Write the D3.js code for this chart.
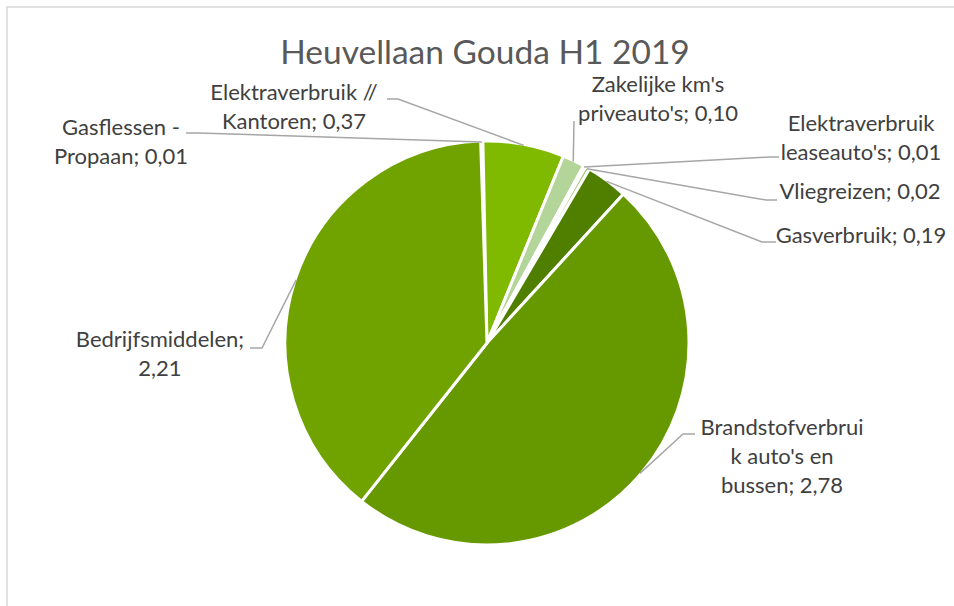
<!DOCTYPE html>
<html lang="nl">
<head>
  <meta charset="UTF-8" />
  <title>Heuvellaan Gouda H1 2019</title>
  <script src="https://d3js.org/d3.v7.min.js"></script>
  <style>
    body { margin: 0; background: #fff; }
    svg { display: block; font-family: Lato, "Open Sans", sans-serif; }
  </style>
</head>
<body>
  <svg id="chart" width="954" height="606"></svg>

  <script>
    // data, in the order Excel draws the slices (clockwise from the top)
    const categories = [
      "Gasflessen - Propaan",
      "Elektraverbruik // Kantoren",
      "Zakelijke km's priveauto's",
      "Elektraverbruik leaseauto's",
      "Vliegreizen",
      "Gasverbruik",
      "Brandstofverbruik auto's en bussen",
      "Bedrijfsmiddelen"
    ];
    const values = [0.01, 0.37, 0.10, 0.01, 0.02, 0.19, 2.78, 2.21];
    // wrapped label text as it appears on the chart
    const labelLines = [
      ["Gasflessen -", "Propaan; 0,01"],
      ["Elektraverbruik //", "Kantoren; 0,37"],
      ["Zakelijke km's", "priveauto's; 0,10"],
      ["Elektraverbruik", "leaseauto's; 0,01"],
      ["Vliegreizen; 0,02"],
      ["Gasverbruik; 0,19"],
      ["Brandstofverbrui", "k auto's en", "bussen; 2,78"],
      ["Bedrijfsmiddelen;", "2,21"]
    ];

    const colors = ["#d6e8c4", "#80ba00", "#b3d59a", "#c8e2b0", "#9cc66e", "#507f00", "#669800", "#70a200"];

    // label placement: x centre, first baseline, leader tail and elbow
    const labelLayout = [
      { x: 121, y: 135, tail: [186, 133], elbow: [198, 133] },
      { x: 294, y: 100, tail: [387, 99], elbow: [398, 99] },
      { x: 658, y: 92, tail: [574, 121], elbow: [574, 122] },
      { x: 861, y: 131, tail: [779, 157], elbow: [770, 157] },
      { x: 860, y: 199, tail: [777, 200], elbow: [766, 200] },
      { x: 861, y: 243, tail: [776, 242], elbow: [762, 242] },
      { x: 782, y: 435, tail: [695, 434], elbow: [683, 434] },
      { x: 160, y: 347, tail: [250, 348], elbow: [262, 348] }
    ];

    const svg = d3.select("#chart");
    const width = +svg.attr("width");
    const height = +svg.attr("height");

    const cx = 487, cy = 343, radius = 202;
    const start = -1.8 * Math.PI / 180;

    // chart area border
    svg.append("rect")
      .attr("x", 7).attr("y", 7)
      .attr("width", width).attr("height", height)
      .attr("fill", "none")
      .attr("stroke", "#d9d9d9")
      .attr("stroke-width", 1.5);

    svg.append("text")
      .attr("x", 485).attr("y", 64)
      .attr("text-anchor", "middle")
      .attr("fill", "#595959")
      .style("font-size", "33.5px")
      .text("Heuvellaan Gouda H1 2019");

    const pie = d3.pie()
      .sort(null)
      .startAngle(start)
      .endAngle(start + 2 * Math.PI);

    const arcs = pie(values);
    const arc = d3.arc().innerRadius(0).outerRadius(radius);
    const edge = d3.arc().innerRadius(radius - 1).outerRadius(radius - 1);

    const g = svg.append("g").attr("transform", `translate(${cx},${cy})`);

    g.selectAll("path.slice")
      .data(arcs)
      .join("path")
      .attr("class", "slice")
      .attr("d", arc)
      .attr("fill", (d, i) => colors[i])
      .attr("stroke", "#fff")
      .attr("stroke-width", 3)
      .attr("stroke-linejoin", "round");

    // leader lines
    svg.selectAll("polyline.leader")
      .data(arcs)
      .join("polyline")
      .attr("class", "leader")
      .attr("points", (d, i) => {
        const p = edge.centroid(d);
        const L = labelLayout[i];
        return [L.tail, L.elbow, [cx + p[0], cy + p[1]]].map(q => q.join(",")).join(" ");
      })
      .attr("fill", "none")
      .attr("stroke", "#a6a6a6")
      .attr("stroke-width", 1.5);

    const labels = svg.selectAll("text.label")
      .data(categories)
      .join("text")
      .attr("class", "label")
      .attr("text-anchor", "middle")
      .attr("fill", "#404040")
      .style("font-size", "22px")
      .attr("x", (d, i) => labelLayout[i].x)
      .attr("y", (d, i) => labelLayout[i].y);

    labels.each(function(d, i) {
      d3.select(this).selectAll("tspan")
        .data(labelLines[i])
        .join("tspan")
        .attr("x", labelLayout[i].x)
        .attr("dy", (t, j) => j === 0 ? 0 : 29)
        .text(t => t);
    });
  </script>
</body>
</html>
